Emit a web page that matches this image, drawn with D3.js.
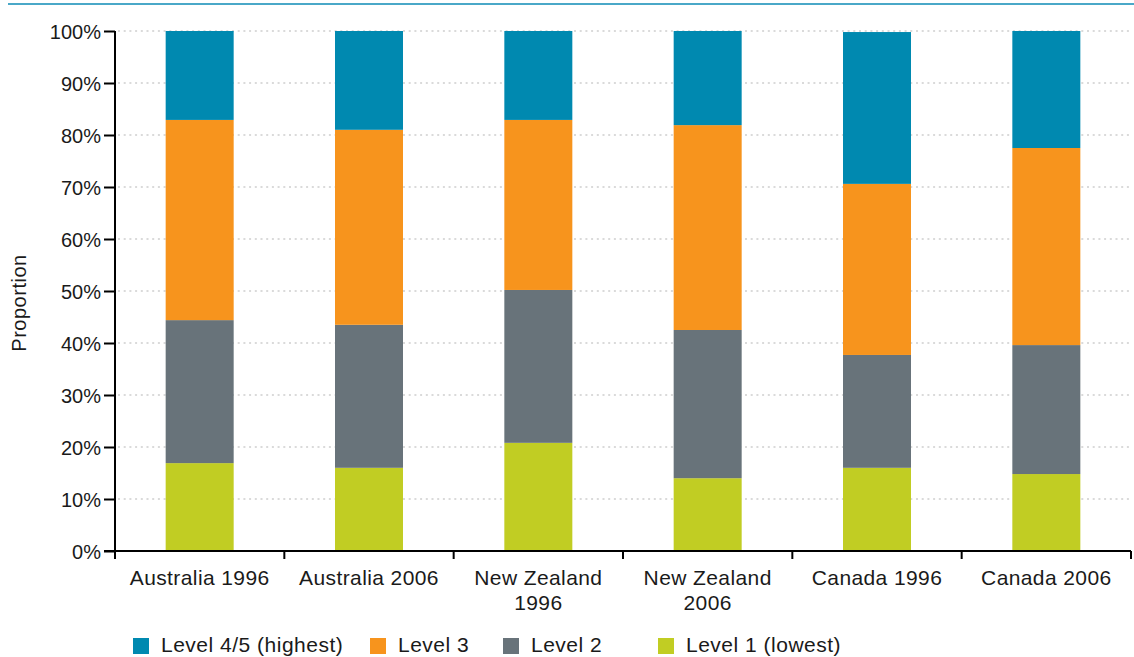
<!DOCTYPE html>
<html><head><meta charset="utf-8">
<script src="https://cdn.jsdelivr.net/npm/d3@7"></script>
<style>
body{margin:0;background:#fff;}
text{font-family:"Liberation Sans",Arial,sans-serif;fill:#1a1a1a;}
</style></head>
<body><svg id="c" width="1134" height="657"></svg>
<script>
const categories = [["Australia 1996"],["Australia 2006"],["New Zealand","1996"],["New Zealand","2006"],["Canada 1996"],["Canada 2006"]];
const level1 = [16.9, 16.0, 20.8, 14.0, 16.0, 14.8];
const level2 = [27.5, 27.5, 29.4, 28.5, 21.7, 24.8];
const level3 = [38.5, 37.5, 32.7, 39.4, 32.9, 37.9];
const level45 = [17.1, 19.0, 17.1, 18.1, 29.2, 22.5];
const seriesNames = ["Level 1 (lowest)","Level 2","Level 3","Level 4/5 (highest)"];
const colors = ["#c1cd23","#68737a","#f7941d","#0089b0"];
const yTicks = [0,10,20,30,40,50,60,70,80,90,100];

const svg = d3.select("#c");
const pL = 115, pR = 1131, pT = 31, pB = 551;
const keys = categories.map(c => c.join(" "));
const x = d3.scaleBand().domain(keys).range([pL, pR]);
const y = d3.scaleLinear().domain([0,100]).range([pB, pT]);

// top rule
svg.append("rect").attr("x",8).attr("y",3).attr("width",1126).attr("height",2).attr("fill","#4aa8c8");

// gridlines
svg.append("g").selectAll("line").data(yTicks.filter(d=>d>0)).join("line")
  .attr("x1",pL+3).attr("x2",pR).attr("y1",d=>y(d)).attr("y2",d=>y(d))
  .attr("stroke","#b5b5b5").attr("stroke-width",1.2).attr("stroke-dasharray","2,3.7");

// bars
const rows = keys.map((k,i)=>({key:k,l1:level1[i],l2:level2[i],l3:level3[i],l4:level45[i]}));
const stack = d3.stack().keys(["l1","l2","l3","l4"])(rows);
const bw = 68;
svg.append("g").selectAll("g").data(stack).join("g").attr("fill",(d,i)=>colors[i])
  .selectAll("rect").data(d=>d).join("rect")
  .attr("x",d=>x(d.data.key)+x.bandwidth()/2-bw/2).attr("width",bw)
  .attr("y",d=>y(d[1])).attr("height",d=>y(d[0])-y(d[1]));

// y axis
const ya = svg.append("g").attr("transform",`translate(${pL},0)`)
  .call(d3.axisLeft(y).tickValues(yTicks).tickFormat(d=>d+"%").tickSize(11).tickPadding(3));
ya.select(".domain").attr("stroke","#000").attr("stroke-width",2).attr("d",`M0,${pT}V${pB}`);
ya.selectAll(".tick line").attr("stroke","#000").attr("stroke-width",2);
ya.selectAll(".tick text").attr("font-size",20).attr("font-family","Liberation Sans").attr("fill","#1a1a1a").attr("dy","0.36em");

// x axis
const xa = svg.append("g").attr("transform",`translate(0,${pB})`);
xa.append("line").attr("x1",pL-11).attr("x2",pR).attr("y1",0).attr("y2",0).attr("stroke","#000").attr("stroke-width",2);
const bounds = keys.map(k=>x(k)).concat([pR]);
xa.selectAll("line.t").data(bounds).join("line").attr("class","t")
  .attr("x1",d=>d).attr("x2",d=>d).attr("y1",0).attr("y2",8).attr("stroke","#000").attr("stroke-width",2);
categories.forEach((c,i)=>{
  const t = xa.append("text").attr("text-anchor","middle").attr("font-size",21).attr("letter-spacing","0.4px")
    .attr("x",x(keys[i])+x.bandwidth()/2);
  c.forEach((ln,j)=>t.append("tspan").attr("x",x(keys[i])+x.bandwidth()/2).attr("y",34+j*25).text(ln));
});

// y title
svg.append("text").attr("transform","translate(26,303) rotate(-90)").attr("text-anchor","middle")
  .attr("font-size",20).attr("letter-spacing","0.5px").text("Proportion");

// legend
const legendOrder = [3,2,1,0];
const legX = [133,370,503,658];
legendOrder.forEach((si,i)=>{
  svg.append("rect").attr("x",legX[i]).attr("y",638).attr("width",16).attr("height",16).attr("fill",colors[si]);
  svg.append("text").attr("x",legX[i]+28).attr("y",652).attr("font-size",21).attr("letter-spacing","0.5px").text(seriesNames[si]);
});
</script></body></html>
